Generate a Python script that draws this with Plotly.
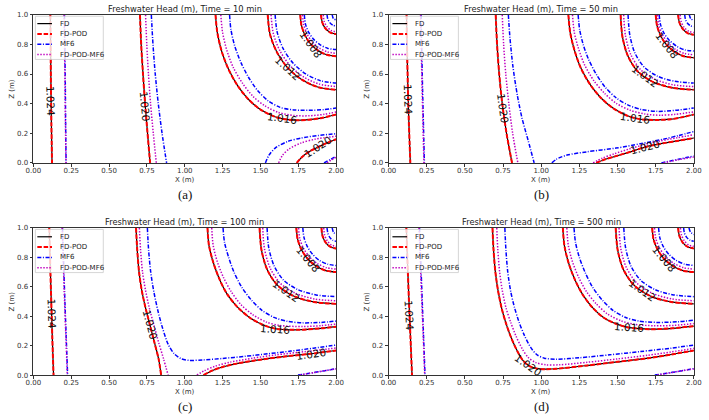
import plotly.graph_objects as go

# ---------------- data ----------------
TIMES = [10, 50, 100, 500]
PANEL_TAGS = ["(a)", "(b)", "(c)", "(d)"]
SERIES_NAMES = ["FD", "FD-POD", "MF6", "FD-POD-MF6"]
X_TICKS = [0.0, 0.25, 0.5, 0.75, 1.0, 1.25, 1.5, 1.75, 2.0]
Z_TICKS = [0.0, 0.2, 0.4, 0.6, 0.8, 1.0]

# contour polylines (x, z) -- panel (a), t = 10 min
A_FD = [
    [(0.112, 1.0), (0.114, 0.75), (0.116, 0.5), (0.119, 0.25), (0.123, 0.0)],
    [(0.704, 1.0), (0.712, 0.8), (0.724, 0.6), (0.738, 0.4), (0.754, 0.2), (0.771, 0.0)],
    [(1.203, 1.0), (1.215, 0.88), (1.245, 0.75), (1.29, 0.63), (1.35, 0.52), (1.42, 0.43), (1.50, 0.36),
     (1.60, 0.31), (1.70, 0.29), (1.80, 0.29), (1.90, 0.302), (2.0, 0.327)],
    [(1.548, 1.0), (1.563, 0.869), (1.609, 0.747), (1.680, 0.642), (1.774, 0.562), (1.883, 0.511), (2.0, 0.494)],
    [(1.763, 1.0), (1.771, 0.928), (1.795, 0.86), (1.832, 0.802), (1.882, 0.758), (1.939, 0.730), (2.0, 0.72)],
    [(1.90, 1.0), (1.908, 0.95), (1.929, 0.908), (1.962, 0.88), (2.0, 0.87)],
    [(1.74, 0.0), (1.775, 0.04), (1.82, 0.075), (1.877, 0.105), (1.94, 0.135), (2.0, 0.16)],
]
A_PODMF6 = [
    [(0.203, 1.0), (0.206, 0.75), (0.209, 0.5), (0.212, 0.25), (0.215, 0.0)],
    [(0.741, 1.0), (0.749, 0.8), (0.76, 0.6), (0.774, 0.4), (0.792, 0.2), (0.812, 0.0)],
    [(1.238, 1.0), (1.25, 0.88), (1.278, 0.76), (1.32, 0.645), (1.38, 0.54), (1.45, 0.45), (1.53, 0.385),
     (1.62, 0.34), (1.72, 0.32), (1.82, 0.318), (1.92, 0.328), (2.0, 0.344)],
    [(1.570, 1.0), (1.585, 0.874), (1.628, 0.758), (1.696, 0.657), (1.785, 0.580), (1.889, 0.532), (2.0, 0.515)],
    [(1.778, 1.0), (1.786, 0.933), (1.808, 0.87), (1.843, 0.816), (1.889, 0.775), (1.943, 0.749), (2.0, 0.74)],
    [(1.915, 1.0), (1.921, 0.956), (1.940, 0.919), (1.967, 0.894), (2.0, 0.885)],
    [(1.62, 0.0), (1.645, 0.05), (1.69, 0.095), (1.77, 0.135), (1.86, 0.16), (2.0, 0.18)],
    [(1.94, 0.0), (1.97, 0.02), (2.0, 0.038)],
]
A_MF6 = [
    [(0.205, 1.0), (0.208, 0.75), (0.211, 0.5), (0.213, 0.25), (0.216, 0.0)],
    [(0.779, 1.0), (0.79, 0.8), (0.805, 0.6), (0.825, 0.4), (0.85, 0.2), (0.88, 0.0)],
    [(1.296, 1.0), (1.305, 0.9), (1.33, 0.79), (1.37, 0.68), (1.42, 0.58), (1.48, 0.49), (1.55, 0.42),
     (1.63, 0.375), (1.72, 0.358), (1.82, 0.355), (1.92, 0.36), (2.0, 0.37)],
    [(1.597, 1.0), (1.611, 0.881), (1.651, 0.770), (1.715, 0.674), (1.799, 0.601), (1.896, 0.555), (2.0, 0.539)],
    [(1.79, 1.0), (1.797, 0.939), (1.818, 0.883), (1.852, 0.834), (1.895, 0.797), (1.946, 0.773), (2.0, 0.765)],
    [(1.94, 1.0), (1.945, 0.971), (1.958, 0.947), (1.977, 0.931), (2.0, 0.925)],
    [(1.974, 1.0), (1.982, 0.975), (2.0, 0.965)],
    [(1.533, 0.0), (1.555, 0.05), (1.597, 0.10), (1.68, 0.145), (1.77, 0.168), (1.88, 0.185), (2.0, 0.197)],
    [(1.92, 0.0), (1.96, 0.022), (2.0, 0.045)],
]

# panel (b), t = 50 min
B_FD = [
    [(0.118, 1.0), (0.122, 0.75), (0.127, 0.5), (0.134, 0.25), (0.143, 0.0)],
    [(0.702, 1.0), (0.711, 0.8), (0.725, 0.6), (0.745, 0.4), (0.773, 0.2), (0.809, 0.0)],
    [(1.178, 1.0), (1.19, 0.88), (1.218, 0.76), (1.26, 0.64), (1.32, 0.53), (1.39, 0.44), (1.47, 0.37),
     (1.56, 0.32), (1.65, 0.295), (1.75, 0.29), (1.85, 0.295), (1.93, 0.31), (2.0, 0.327)],
    [(1.52, 1.0), (1.532, 0.853), (1.568, 0.722), (1.635, 0.615), (1.736, 0.545), (1.861, 0.507), (2.0, 0.494)],
    [(1.75, 1.0), (1.759, 0.925), (1.784, 0.855), (1.823, 0.795), (1.875, 0.749), (1.935, 0.720), (2.0, 0.71)],
    [(1.897, 1.0), (1.905, 0.948), (1.927, 0.905), (1.961, 0.875), (2.0, 0.865)],
    [(1.36, 0.0), (1.42, 0.025), (1.49, 0.046), (1.60, 0.08), (1.68, 0.107), (1.80, 0.133), (1.90, 0.15), (2.0, 0.168)],
]
B_PODMF6 = [
    [(0.21, 1.0), (0.215, 0.75), (0.22, 0.5), (0.226, 0.25), (0.232, 0.0)],
    [(0.745, 1.0), (0.754, 0.8), (0.768, 0.6), (0.788, 0.4), (0.813, 0.2), (0.847, 0.0)],
    [(1.205, 1.0), (1.217, 0.88), (1.245, 0.77), (1.285, 0.66), (1.345, 0.555), (1.415, 0.47), (1.495, 0.40),
     (1.585, 0.355), (1.68, 0.33), (1.78, 0.322), (1.88, 0.328), (2.0, 0.345)],
    [(1.54, 1.0), (1.552, 0.859), (1.586, 0.733), (1.650, 0.631), (1.747, 0.564), (1.867, 0.527), (2.0, 0.515)],
    [(1.762, 1.0), (1.770, 0.930), (1.794, 0.865), (1.832, 0.809), (1.881, 0.766), (1.938, 0.739), (2.0, 0.73)],
    [(1.91, 1.0), (1.917, 0.954), (1.936, 0.915), (1.966, 0.889), (2.0, 0.88)],
    [(1.34, 0.0), (1.40, 0.032), (1.48, 0.062), (1.58, 0.095), (1.68, 0.125), (1.78, 0.148), (1.89, 0.17), (2.0, 0.19)],
    [(1.80, 0.0), (1.90, 0.022), (2.0, 0.04)],
]
B_MF6 = [
    [(0.213, 1.0), (0.218, 0.75), (0.223, 0.5), (0.229, 0.25), (0.235, 0.0)],
    [(0.785, 1.0), (0.795, 0.85), (0.815, 0.65), (0.845, 0.45), (0.875, 0.3), (0.915, 0.15), (0.954, 0.0)],
    [(1.242, 1.0), (1.252, 0.9), (1.275, 0.80), (1.31, 0.70), (1.36, 0.60), (1.42, 0.51), (1.49, 0.44),
     (1.57, 0.39), (1.66, 0.36), (1.76, 0.348), (1.88, 0.355), (2.0, 0.371)],
    [(1.569, 1.0), (1.580, 0.866), (1.612, 0.746), (1.672, 0.650), (1.763, 0.585), (1.875, 0.551), (2.0, 0.539)],
    [(1.773, 1.0), (1.781, 0.937), (1.803, 0.878), (1.840, 0.827), (1.887, 0.788), (1.941, 0.763), (2.0, 0.755)],
    [(1.94, 1.0), (1.945, 0.969), (1.958, 0.943), (1.977, 0.926), (2.0, 0.92)],
    [(1.97, 1.0), (1.979, 0.975), (2.0, 0.96)],
    [(1.07, 0.0), (1.10, 0.025), (1.17, 0.053), (1.30, 0.075), (1.49, 0.10), (1.65, 0.13), (1.80, 0.16),
     (1.90, 0.185), (2.0, 0.212)],
    [(1.787, 0.0), (1.90, 0.025), (2.0, 0.046)],
]

# panel (c), t = 100 min
C_FD = [
    [(0.105, 1.0), (0.111, 0.75), (0.118, 0.5), (0.125, 0.25), (0.133, 0.0)],
    [(0.678, 1.0), (0.686, 0.85), (0.698, 0.7), (0.715, 0.58), (0.74, 0.46), (0.769, 0.344), (0.80, 0.22),
     (0.827, 0.11), (0.844, 0.0)],
    [(1.15, 1.0), (1.16, 0.88), (1.19, 0.76), (1.23, 0.65), (1.28, 0.55), (1.35, 0.46), (1.43, 0.39),
     (1.52, 0.34), (1.60, 0.315), (1.75, 0.308), (1.90, 0.318), (2.0, 0.329)],
    [(1.494, 1.0), (1.507, 0.850), (1.545, 0.716), (1.615, 0.608), (1.722, 0.536), (1.853, 0.497), (2.0, 0.484)],
    [(1.737, 1.0), (1.746, 0.922), (1.772, 0.85), (1.814, 0.788), (1.869, 0.740), (1.932, 0.710), (2.0, 0.70)],
    [(1.903, 1.0), (1.910, 0.946), (1.931, 0.901), (1.963, 0.871), (2.0, 0.86)],
    [(1.124, 0.0), (1.18, 0.03), (1.25, 0.055), (1.35, 0.08), (1.50, 0.105), (1.65, 0.125), (1.834, 0.145), (2.0, 0.167)],
]
C_PODMF6 = [
    [(0.19, 1.0), (0.198, 0.75), (0.206, 0.5), (0.215, 0.25), (0.224, 0.0)],
    [(0.70, 1.0), (0.708, 0.85), (0.721, 0.7), (0.74, 0.58), (0.765, 0.46), (0.795, 0.344), (0.828, 0.22),
     (0.86, 0.11), (0.89, 0.0)],
    [(1.178, 1.0), (1.188, 0.88), (1.215, 0.77), (1.255, 0.665), (1.305, 0.57), (1.37, 0.48), (1.45, 0.41),
     (1.54, 0.36), (1.63, 0.337), (1.78, 0.33), (1.90, 0.336), (2.0, 0.347)],
    [(1.515, 1.0), (1.527, 0.856), (1.564, 0.728), (1.631, 0.624), (1.733, 0.555), (1.859, 0.517), (2.0, 0.505)],
    [(1.752, 1.0), (1.760, 0.927), (1.785, 0.86), (1.825, 0.802), (1.876, 0.758), (1.936, 0.730), (2.0, 0.72)],
    [(1.918, 1.0), (1.924, 0.952), (1.942, 0.912), (1.969, 0.884), (2.0, 0.875)],
    [(1.08, 0.0), (1.13, 0.03), (1.20, 0.06), (1.30, 0.088), (1.45, 0.115), (1.60, 0.137), (1.80, 0.16), (2.0, 0.184)],
    [(1.76, 0.0), (1.88, 0.022), (2.0, 0.042)],
]
C_MF6 = [
    [(0.192, 1.0), (0.2, 0.75), (0.208, 0.5), (0.217, 0.25), (0.226, 0.0)],
    [(0.753, 1.0), (0.761, 0.85), (0.775, 0.7), (0.795, 0.57), (0.822, 0.44), (0.853, 0.32), (0.89, 0.21),
     (0.93, 0.145), (0.975, 0.112), (1.03, 0.10), (1.12, 0.103), (1.25, 0.113), (1.40, 0.128), (1.55, 0.145),
     (1.70, 0.163), (1.85, 0.183), (2.0, 0.204)],
    [(1.253, 1.0), (1.263, 0.9), (1.29, 0.8), (1.325, 0.70), (1.375, 0.60), (1.44, 0.51), (1.51, 0.44),
     (1.59, 0.392), (1.68, 0.365), (1.78, 0.355), (1.90, 0.358), (2.0, 0.367)],
    [(1.544, 1.0), (1.555, 0.865), (1.590, 0.743), (1.653, 0.645), (1.749, 0.580), (1.868, 0.545), (2.0, 0.533)],
    [(1.78, 1.0), (1.788, 0.934), (1.810, 0.873), (1.845, 0.820), (1.89, 0.779), (1.943, 0.754), (2.0, 0.745)],
    [(1.94, 1.0), (1.945, 0.966), (1.958, 0.936), (1.977, 0.917), (2.0, 0.91)],
    [(1.974, 1.0), (1.982, 0.972), (2.0, 0.955)],
    [(1.748, 0.0), (1.88, 0.022), (2.0, 0.044)],
]

# panel (d), t = 500 min
D_FD = [
    [(0.117, 1.0), (0.125, 0.75), (0.134, 0.5), (0.144, 0.25), (0.154, 0.0)],
    [(0.681, 1.0), (0.688, 0.85), (0.70, 0.7), (0.718, 0.57), (0.742, 0.45), (0.77, 0.35), (0.805, 0.25),
     (0.845, 0.16), (0.88, 0.10), (0.92, 0.063), (0.97, 0.045), (1.03, 0.040), (1.10, 0.043), (1.30, 0.065),
     (1.50, 0.09), (1.70, 0.115), (1.85, 0.14), (2.0, 0.167)],
    [(1.142, 1.0), (1.152, 0.88), (1.18, 0.76), (1.22, 0.65), (1.27, 0.55), (1.335, 0.46), (1.41, 0.39),
     (1.50, 0.345), (1.58, 0.322), (1.72, 0.312), (1.86, 0.318), (2.0, 0.333)],
    [(1.488, 1.0), (1.501, 0.850), (1.539, 0.716), (1.611, 0.608), (1.718, 0.536), (1.852, 0.497), (2.0, 0.484)],
    [(1.727, 1.0), (1.736, 0.922), (1.764, 0.85), (1.807, 0.788), (1.864, 0.740), (1.929, 0.710), (2.0, 0.70)],
    [(1.897, 1.0), (1.905, 0.946), (1.927, 0.901), (1.961, 0.871), (2.0, 0.86)],
]
D_PODMF6 = [
    [(0.2, 1.0), (0.209, 0.75), (0.218, 0.5), (0.228, 0.25), (0.237, 0.0)],
    [(0.709, 1.0), (0.716, 0.85), (0.728, 0.7), (0.746, 0.57), (0.77, 0.455), (0.80, 0.36), (0.835, 0.265),
     (0.875, 0.18), (0.915, 0.12), (0.965, 0.085), (1.03, 0.07), (1.12, 0.07), (1.30, 0.087), (1.50, 0.11),
     (1.70, 0.135), (1.85, 0.157), (2.0, 0.182)],
    [(1.168, 1.0), (1.178, 0.88), (1.205, 0.77), (1.245, 0.665), (1.295, 0.57), (1.36, 0.485), (1.435, 0.415),
     (1.525, 0.368), (1.61, 0.345), (1.74, 0.335), (1.87, 0.338), (2.0, 0.35)],
    [(1.51, 1.0), (1.522, 0.856), (1.559, 0.728), (1.628, 0.624), (1.731, 0.555), (1.858, 0.517), (2.0, 0.505)],
    [(1.742, 1.0), (1.751, 0.927), (1.777, 0.86), (1.818, 0.802), (1.871, 0.758), (1.933, 0.730), (2.0, 0.72)],
    [(1.912, 1.0), (1.919, 0.952), (1.938, 0.912), (1.966, 0.884), (2.0, 0.875)],
    [(1.76, 0.0), (1.88, 0.022), (2.0, 0.042)],
]
D_MF6 = [
    [(0.203, 1.0), (0.212, 0.75), (0.221, 0.5), (0.23, 0.25), (0.239, 0.0)],
    [(0.762, 1.0), (0.769, 0.85), (0.781, 0.7), (0.80, 0.57), (0.825, 0.46), (0.855, 0.36), (0.89, 0.27),
     (0.93, 0.19), (0.97, 0.14), (1.02, 0.115), (1.10, 0.108), (1.25, 0.118), (1.45, 0.138), (1.65, 0.16),
     (1.85, 0.183), (2.0, 0.204)],
    [(1.215, 1.0), (1.225, 0.9), (1.25, 0.8), (1.287, 0.70), (1.335, 0.60), (1.40, 0.51), (1.47, 0.44),
     (1.55, 0.393), (1.64, 0.367), (1.76, 0.358), (1.89, 0.362), (2.0, 0.373)],
    [(1.541, 1.0), (1.553, 0.865), (1.587, 0.743), (1.651, 0.645), (1.748, 0.580), (1.867, 0.545), (2.0, 0.533)],
    [(1.769, 1.0), (1.777, 0.934), (1.80, 0.873), (1.837, 0.820), (1.885, 0.779), (1.940, 0.754), (2.0, 0.745)],
    [(1.933, 1.0), (1.938, 0.966), (1.953, 0.936), (1.975, 0.917), (2.0, 0.91)],
    [(1.968, 1.0), (1.978, 0.972), (2.0, 0.955)],
    [(1.744, 0.0), (1.88, 0.022), (2.0, 0.044)],
]

# contour labels (text, x, z)
A_LAB_TEXT = ["1.024", "1.020", "1.016", "1.012", "1.008", "1.020"]
A_LAB_X = [0.116, 0.740, 1.64, 1.680, 1.832, 1.877]
A_LAB_Z = [0.42, 0.38, 0.300, 0.642, 0.802, 0.105]
B_LAB_TEXT = ["1.024", "1.020", "1.016", "1.012", "1.008", "1.020"]
B_LAB_X = [0.128, 0.749, 1.615, 1.68, 1.823, 1.68]
B_LAB_Z = [0.43, 0.37, 0.303, 0.585, 0.795, 0.107]
C_LAB_TEXT = ["1.024", "1.020", "1.016", "1.012", "1.008", "1.020"]
C_LAB_X = [0.121, 0.769, 1.597, 1.67, 1.814, 1.834]
C_LAB_Z = [0.42, 0.344, 0.316, 0.571, 0.788, 0.145]
D_LAB_TEXT = ["1.024", "1.020", "1.016", "1.012", "1.008"]
D_LAB_X = [0.138, 0.915, 1.573, 1.66, 1.807]
D_LAB_Z = [0.41, 0.068, 0.324, 0.575, 0.788]

# ---------------- presentation ----------------
LAB_ANGLES = [
    [88, 85, 8, 42, 55, -33],
    [88, 82, 8, 36, 52, -14],
    [88, 75, 4, 35, 50, -8],
    [87, 35, 4, 35, 50],
]

W, H = 709, 420
# plot-area pixel boxes (left, right, top, bottom)
BOXES = [(26, 335.7, 11, 162), (389.3, 701.7, 11, 162),
         (26, 335.7, 228.3, 378.3), (389.3, 701.7, 228.3, 378.3)]

STYLES = {
    "FD": dict(color="#000000", width=1.2, dash="solid"),
    "FD-POD": dict(color="#ff0000", width=2.0, dash="4.5px,1.8px"),
    "MF6": dict(color="#0000ff", width=1.5, dash="4px,1.6px,1px,1.6px"),
    "FD-POD-MF6": dict(color="#bf00bf", width=1.5, dash="1.4px,1.6px"),
}

PANELS = [
    (A_FD, A_MF6, A_PODMF6, A_LAB_TEXT, A_LAB_X, A_LAB_Z),
    (B_FD, B_MF6, B_PODMF6, B_LAB_TEXT, B_LAB_X, B_LAB_Z),
    (C_FD, C_MF6, C_PODMF6, C_LAB_TEXT, C_LAB_X, C_LAB_Z),
    (D_FD, D_MF6, D_PODMF6, D_LAB_TEXT, D_LAB_X, D_LAB_Z),
]


def to_xy(curves):
    xs, zs = [], []
    for c in curves:
        for x, z in c:
            xs.append(x)
            zs.append(z)
        xs.append(None)
        zs.append(None)
    return xs, zs


FONT = "DejaVu Sans"
fig = go.Figure()
annotations = []
shapes = []
layout = {}

for i, (fd, mf6, podmf6, ltxt, lx, lz) in enumerate(PANELS):
    n = "" if i == 0 else str(i + 1)
    xa, ya = "x" + n, "y" + n
    l, r, t, b = BOXES[i]
    pw, ph = r - l, b - t

    series = [("FD", fd), ("FD-POD", fd), ("MF6", mf6), ("FD-POD-MF6", podmf6)]
    for name, curves in series:
        xs, zs = to_xy(curves)
        st = STYLES[name]
        fig.add_trace(go.Scatter(
            x=xs, y=zs, mode="lines", name=name, showlegend=False, hoverinfo="skip",
            connectgaps=False,
            line=dict(color=st["color"], width=st["width"], dash=st["dash"], shape="spline", smoothing=0.8),
            xaxis=xa, yaxis=ya))

    axis_common = dict(showgrid=False, zeroline=False, showline=True, mirror=True,
                       linecolor="#333333", linewidth=0.8, ticks="outside", ticklen=3,
                       tickwidth=0.8, tickcolor="#333333",
                       tickfont=dict(family=FONT, size=7, color="#333333"))
    layout["xaxis" + n] = dict(axis_common, domain=[l / W, r / W], range=[0, 2],
                               tickvals=X_TICKS, tickformat=".2f", anchor=ya, ticklabelstandoff=-2)
    layout["yaxis" + n] = dict(axis_common, domain=[1 - b / H, 1 - t / H], range=[0, 1],
                               tickvals=Z_TICKS, tickformat=".1f", anchor=xa)

    cx = (l + r) / 2
    # title
    annotations.append(dict(text=f"Freshwater Head (m), Time = {TIMES[i]} min", xref="paper", yref="paper",
                            x=cx / W, y=1 - (t - 6) / H, xanchor="center", yanchor="middle", showarrow=False,
                            font=dict(family=FONT, size=8.3, color="#222222")))
    # axis titles
    annotations.append(dict(text="X (m)", xref="paper", yref="paper", x=cx / W, y=1 - (b + 17.5) / H,
                            xanchor="center", yanchor="middle", showarrow=False,
                            font=dict(family=FONT, size=7, color="#333333")))
    annotations.append(dict(text="Z (m)", xref="paper", yref="paper", x=(l - 22) / W, y=1 - (t + b) / 2 / H,
                            xanchor="center", yanchor="middle", showarrow=False, textangle=-90,
                            font=dict(family=FONT, size=7, color="#333333")))
    # panel tag
    annotations.append(dict(text=PANEL_TAGS[i], xref="paper", yref="paper", x=cx / W, y=1 - (b + 32) / H,
                            xanchor="center", yanchor="middle", showarrow=False,
                            font=dict(family="Liberation Serif", size=13, color="#111111")))
    # contour labels
    for k, txt in enumerate(ltxt):
        annotations.append(dict(text=txt, xref=xa, yref=ya, x=lx[k], y=lz[k], showarrow=False,
                                textangle=LAB_ANGLES[i][k], xanchor="center", yanchor="middle",
                                font=dict(family=FONT, size=10.5, color="#111111")))

    # legend (drawn in the panel's domain coordinates)
    xd, yd = xa + " domain", ya + " domain"
    shapes.append(dict(type="rect", xref=xd, yref=yd, x0=2 / pw, x1=71.5 / pw,
                       y0=1 - 45.5 / ph, y1=1 - 1.5 / ph,
                       fillcolor="rgba(255,255,255,0.8)", line=dict(color="#cccccc", width=0.8), layer="above"))
    for j, name in enumerate(SERIES_NAMES):
        ry = 1 - (9 + 10.5 * j) / ph
        st = STYLES[name]
        shapes.append(dict(type="line", xref=xd, yref=yd, x0=4 / pw, x1=19 / pw, y0=ry, y1=ry,
                           line=dict(color=st["color"], width=st["width"], dash=st["dash"]), layer="above"))
        annotations.append(dict(text=name, xref=xd, yref=yd, x=25 / pw, y=ry, xanchor="left", yanchor="middle",
                                showarrow=False, font=dict(family=FONT, size=7, color="#222222")))

fig.update_layout(**layout)
fig.update_layout(width=W, height=H, autosize=False, margin=dict(l=0, r=0, t=0, b=0),
                  paper_bgcolor="white", plot_bgcolor="white", showlegend=False,
                  annotations=annotations, shapes=shapes)
fig.write_html("out.html")
